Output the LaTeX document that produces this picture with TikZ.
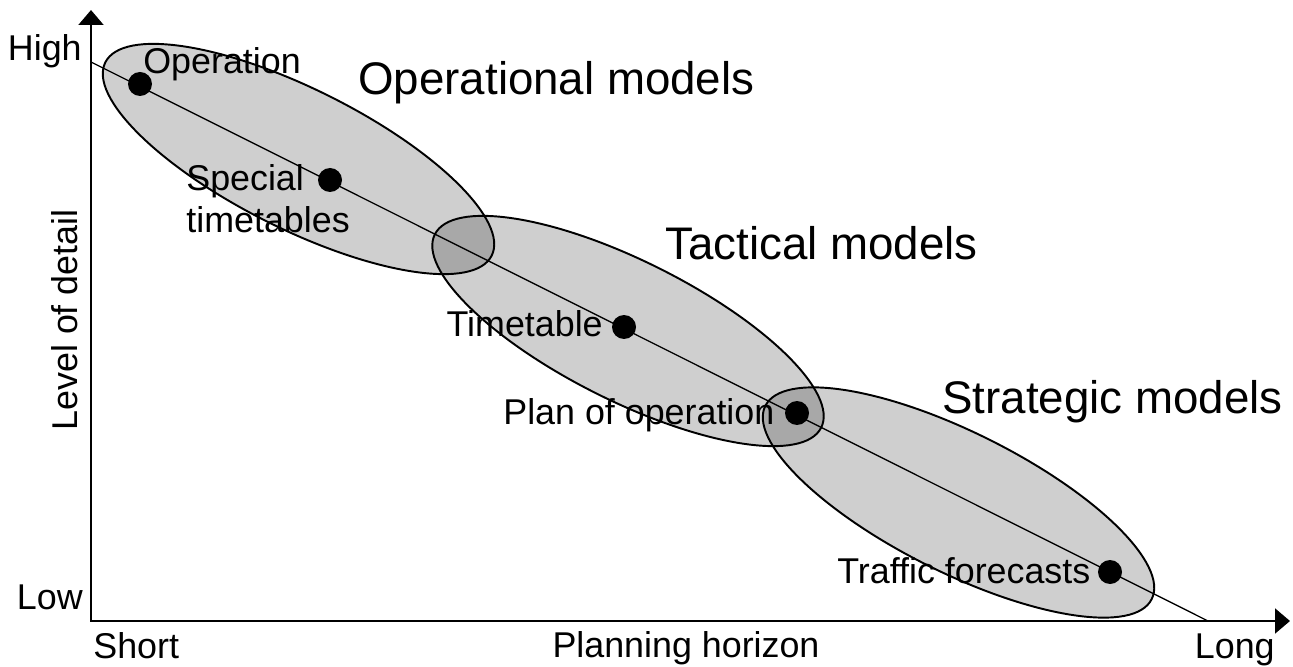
\documentclass[tikz,border=0pt]{standalone}
\usepackage{fontspec}
\setmainfont{Liberation Sans}
\usetikzlibrary{arrows.meta}
\tikzset{
    lbl/.style={inner sep=0pt, font=\fontsize{20.4}{24}\selectfont},
    bigtitle/.style={inner sep=0pt, font=\fontsize{26}{31}\selectfont},
    dot/.style={circle, fill=black, inner sep=0pt, minimum size=0.48cm},
    axis/.style={line width=1.7pt, {Triangle[length=8.5pt,width=14pt]}-{Triangle[length=8.5pt,width=14pt]}},
    zone/.style={line width=1.1pt}
}
\begin{document}
\begin{tikzpicture}[x=0.02cm,y=0.02cm]
    \useasboundingbox (0,0) rectangle (1293,666);
    \foreach \cx/\cy in {298.5/507, 628/335, 958.5/163.5}
        \fill[black, fill opacity=0.19, rotate around={-26.57:(\cx,\cy)}] (\cx,\cy) ellipse[x radius=216, y radius=70];
    \foreach \cx/\cy in {298.5/507, 628/335, 958.5/163.5}
        \draw[zone, rotate around={-26.57:(\cx,\cy)}] (\cx,\cy) ellipse[x radius=216, y radius=70];
    \coordinate (O) at (91,45);
    \coordinate (ytop) at (91,656);
    \coordinate (xend) at (1290,45);
    \coordinate (hi) at (91,604);
    \coordinate (lo) at (1208,45);
    \draw[axis] (ytop) -- (O) -- (xend);
    \draw[line width=0.75pt] (hi) -- (lo);
    \node[dot] (op) at (140,582) {};
    \node[dot] (sp) at (330,486) {};
    \node[dot] (tt) at (624,339) {};
    \node[dot] (po) at (797,253) {};
    \node[dot] (tf) at (1110,94) {};
    \node[lbl, anchor=base west] (oplbl) at (143,592) {Operation};
    \node[lbl, anchor=north west, align=left] (splbl) at (186,502) {Special\\timetables};
    \node[lbl, anchor=base east] (ttlbl) at (603,329) {Timetable};
    \node[lbl, anchor=base west] (polbl) at (503,241) {Plan of operation};
    \node[lbl, anchor=base west] (tflbl) at (837,83) {Traffic forecasts};
    \node[bigtitle, anchor=base west] (opm) at (358,571) {Operational models};
    \node[bigtitle, anchor=base west] (tam) at (665,406) {Tactical models};
    \node[bigtitle, anchor=base west] (stm) at (942,253) {Strategic models};
    \node[lbl, anchor=base east] (high) at (82,605) {High};
    \node[lbl, anchor=base east] (low) at (83,57) {Low};
    \node[lbl, anchor=base west] (short) at (93,8) {Short};
    \node[lbl, anchor=base] (horizon) at (686,9) {Planning horizon};
    \node[lbl, anchor=base east] (long) at (1275,8) {Long};
    \node[lbl, anchor=base, rotate=90] (detail) at (77,346) {Level of detail};
\end{tikzpicture}
\end{document}
